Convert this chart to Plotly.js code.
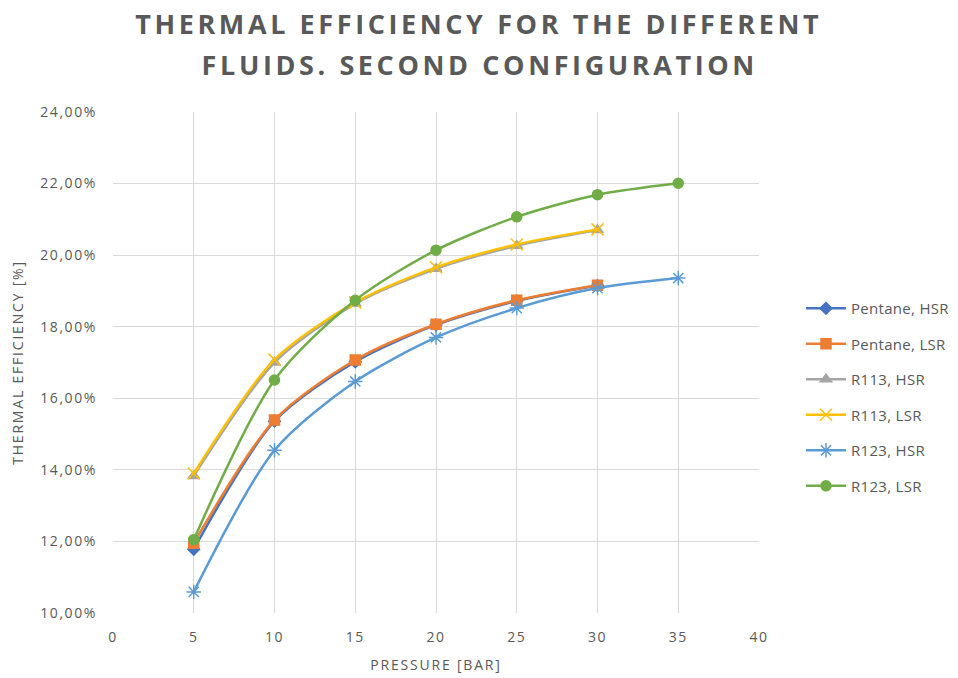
<!DOCTYPE html>
<html>
<head>
<meta charset="utf-8">
<script src="https://cdn.plot.ly/plotly-3.0.1.min.js"></script>
<style>
html,body{margin:0;padding:0;background:#fff;}
#chart{width:958px;height:678px;}
</style>
</head>
<body>
<div id="chart"></div>
<script>
const pressure = [5, 10, 15, 20, 25, 30, 35];
const seriesNames = ["Pentane, HSR", "Pentane, LSR", "R113, HSR", "R113, LSR", "R123, HSR", "R123, LSR"];
const pentaneHSR = [11.78, 15.36, 17.02, 18.05, 18.72, 19.15];
const pentaneLSR = [11.95, 15.39, 17.07, 18.07, 18.74, 19.16];
const r113HSR = [13.83, 17.0, 18.64, 19.62, 20.26, 20.70];
const r113LSR = [13.90, 17.08, 18.68, 19.66, 20.30, 20.72];
const r123HSR = [10.59, 14.55, 16.47, 17.70, 18.52, 19.08, 19.36];
const r123LSR = [12.05, 16.51, 18.74, 20.14, 21.07, 21.69, 22.01];
const yTicks = [10, 12, 14, 16, 18, 20, 22, 24];
const xTicks = [0, 5, 10, 15, 20, 25, 30, 35, 40];
const titleLines = ["THERMAL EFFICIENCY FOR THE DIFFERENT", "FLUIDS. SECOND CONFIGURATION"];

const colors = ["#4472c4", "#ed7d31", "#a5a5a5", "#ffc000", "#5b9bd5", "#70ad47"];
const symbols = ["diamond", "square", "triangle-up", "x-thin-open", "asterisk-open", "circle"];
const sizes = [9, 10, 10, 12, 12, 10];
const values = [pentaneHSR, pentaneLSR, r113HSR, r113LSR, r123HSR, r123LSR];

const traces = values.map((v, i) => ({
  x: pressure.slice(0, v.length),
  y: v,
  name: seriesNames[i],
  legendgroup: "g" + i,
  type: "scatter",
  mode: "lines+markers",
  line: {color: colors[i], width: 2.5, shape: "spline", smoothing: 0.8},
  marker: {color: colors[i], symbol: symbols[i], size: sizes[i], line: {color: colors[i], width: 1.5}}
}));

const gray = "#595959";
const layout = {
  width: 958, height: 678,
  margin: {l: 113, r: 199, t: 112, b: 65, autoexpand: false},
  paper_bgcolor: "#fff", plot_bgcolor: "#fff",
  font: {family: "Open Sans, sans-serif", color: gray, size: 14},
  annotations: titleLines.map((t, i) => ({
    text: t, xref: "paper", yref: "paper",
    x: 0.5666, y: [1.1776, 1.0958][i], xanchor: "center", yanchor: "middle",
    showarrow: false,
    font: {family: "Open Sans, sans-serif", size: 27, color: gray, weight: "bold"}
  })),
  xaxis: {
    range: [0, 40], tickvals: xTicks, ticktext: xTicks.map(String),
    showgrid: true, gridcolor: "#d9d9d9", gridwidth: 1, zeroline: false,
    showline: false, ticks: "", ticklabelstandoff: 14, tickfont: {size: 14, color: gray},
    title: {text: "PRESSURE [BAR]", font: {size: 14, color: gray}, standoff: 15}
  },
  yaxis: {
    range: [10, 24], tickvals: yTicks, ticktext: yTicks.map(t => t.toFixed(2).replace(".", ",") + "%"),
    showgrid: true, gridcolor: "#d9d9d9", gridwidth: 1, zeroline: false,
    showline: false, ticks: "", ticklabelstandoff: 15, tickfont: {size: 14, color: gray},
    title: {text: "THERMAL EFFICIENCY [%]", font: {size: 14, color: gray}, standoff: 22}
  },
  showlegend: true,
  legend: {
    x: 1.065, xanchor: "left", y: 0.431, yanchor: "middle",
    font: {size: 15, color: gray}, tracegroupgap: 13, itemwidth: 40,
    bgcolor: "rgba(0,0,0,0)"
  }
};

Plotly.newPlot("chart", traces, layout, {displayModeBar: false, staticPlot: true}).then(() => {
  document.querySelectorAll(".annotation-text").forEach(el => { el.style.letterSpacing = "3.6px"; });
  document.querySelectorAll(".xtitle, .ytitle").forEach(el => { el.style.letterSpacing = "1.8px"; });
  document.querySelectorAll(".xtick text, .ytick text").forEach(el => { el.style.letterSpacing = "1.6px"; });
  document.querySelectorAll(".legendtext").forEach(el => { el.style.letterSpacing = "0.3px"; });
});
</script>
</body>
</html>
